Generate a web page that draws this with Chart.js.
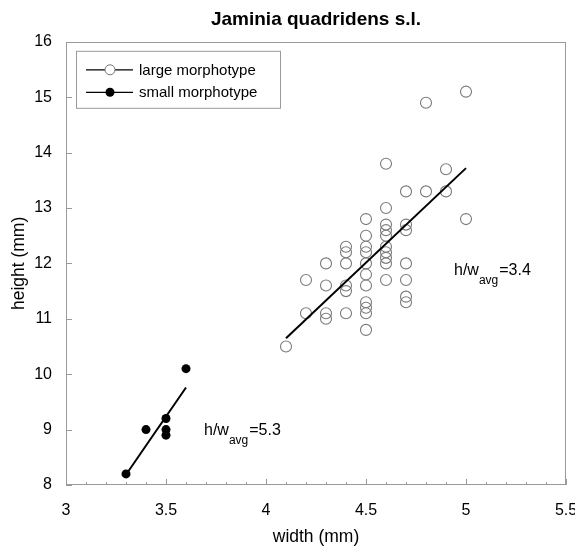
<!DOCTYPE html>
<html>
<head>
<meta charset="utf-8">
<script src="https://cdn.jsdelivr.net/npm/chart.js@4.4.1/dist/chart.umd.min.js"></script>
<style>
  html, body { margin: 0; padding: 0; background: #fff; }
  canvas { display: block; }
</style>
</head>
<body>
<canvas id="chart" width="575" height="552"></canvas>
<script>
// large morphotype
const largeWidth = [
  4.1,
  4.2, 4.2,
  4.3, 4.3, 4.3, 4.3,
  4.4, 4.4, 4.4, 4.4, 4.4, 4.4,
  4.5, 4.5, 4.5, 4.5, 4.5, 4.5, 4.5, 4.5, 4.5, 4.5, 4.5,
  4.6, 4.6, 4.6, 4.6, 4.6, 4.6, 4.6, 4.6, 4.6, 4.6,
  4.7, 4.7, 4.7, 4.7, 4.7, 4.7, 4.7,
  4.8, 4.8,
  4.9, 4.9,
  5.0, 5.0
];
const largeHeight = [
  10.5,
  11.7, 11.1,
  12.0, 11.6, 11.1, 11.0,
  12.3, 12.2, 12.0, 11.6, 11.5, 11.1,
  12.8, 12.5, 12.3, 12.2, 12.0, 11.8, 11.6, 11.3, 11.2, 11.1, 10.8,
  13.8, 13.0, 12.7, 12.6, 12.5, 12.3, 12.2, 12.1, 12.0, 11.7,
  13.3, 12.7, 12.6, 12.0, 11.7, 11.4, 11.3,
  14.9, 13.3,
  13.7, 13.3,
  15.1, 12.8
];

const smallWidth = [3.3, 3.4, 3.5, 3.5, 3.5, 3.6];
const smallHeight = [8.2, 9.0, 9.2, 9.0, 8.9, 10.1];

// fitted lines (end points)
const largeFitX = [4.1, 5.0];
const largeFitY = [10.65, 13.72];
const smallFitX = [3.31, 3.6];
const smallFitY = [8.24, 9.76];

const seriesLabels = ['large morphotype', 'small morphotype'];
const ratioLabels = ['3.4', '5.3'];
const ratioAt = [{ x: 4.94, y: 11.79 }, { x: 3.69, y: 8.9 }];

const xTicks = [3, 3.5, 4, 4.5, 5, 5.5];
const yTicks = [8, 9, 10, 11, 12, 13, 14, 15, 16];

const FONT = "'Liberation Sans', Arial, Helvetica, sans-serif";
const GREY = '#9a9a9a';

const pts = (xs, ys) => xs.map((x, i) => ({ x, y: ys[i] }));

const frameAndTicks = {
  id: 'frameAndTicks',
  beforeDatasetsDraw(chart) {
    const { ctx, chartArea: a, scales: { x, y } } = chart;
    ctx.save();
    ctx.strokeStyle = GREY;
    ctx.lineWidth = 1;
    ctx.strokeRect(Math.round(a.left) + 0.5, Math.round(a.top) + 0.5,
      Math.round(a.right - a.left) - 1, Math.round(a.bottom - a.top) - 1);
    ctx.beginPath();
    // x: major every 0.5, minor every 0.1, pointing inward
    for (let i = 0; i <= 25; i++) {
      const px = Math.round(x.getPixelForValue(3 + i * 0.1)) + 0.5;
      const len = i % 5 === 0 ? 6 : 3;
      ctx.moveTo(px, a.bottom);
      ctx.lineTo(px, a.bottom - len);
    }
    for (const v of yTicks) {
      const py = Math.round(y.getPixelForValue(v)) + 0.5;
      ctx.moveTo(a.left, py);
      ctx.lineTo(a.left + 6, py);
    }
    ctx.stroke();
    ctx.restore();
  }
};

const notes = {
  id: 'notes',
  afterDraw(chart) {
    const { ctx, scales: { x, y } } = chart;
    ctx.save();
    ctx.fillStyle = '#000';
    ctx.textBaseline = 'alphabetic';
    ratioAt.forEach((p, i) => {
      let px = x.getPixelForValue(p.x);
      const py = y.getPixelForValue(p.y);
      ctx.font = `16px ${FONT}`;
      ctx.fillText('h/w', px, py);
      px += ctx.measureText('h/w').width;
      ctx.font = `12px ${FONT}`;
      ctx.fillText('avg', px, py + 9);
      px += ctx.measureText('avg').width + 1;
      ctx.font = `16px ${FONT}`;
      ctx.fillText('=' + ratioLabels[i], px, py);
    });

    // legend box
    const a = chart.chartArea;
    const bx = a.left + 10, by = a.top + 9, bw = 204, bh = 57;
    ctx.fillStyle = '#fff';
    ctx.fillRect(bx, by, bw, bh);
    ctx.strokeStyle = GREY;
    ctx.lineWidth = 1;
    ctx.strokeRect(bx + 0.5, by + 0.5, bw, bh);
    seriesLabels.forEach((label, i) => {
      const ly = by + 19 + i * 22.5;
      ctx.strokeStyle = '#000';
      ctx.lineWidth = 1.3;
      ctx.beginPath();
      ctx.moveTo(bx + 10, ly);
      ctx.lineTo(bx + 57, ly);
      ctx.stroke();
      ctx.beginPath();
      ctx.arc(bx + 34, ly, i === 0 ? 5 : 4.5, 0, Math.PI * 2);
      if (i === 0) {
        ctx.fillStyle = '#fff';
        ctx.fill();
        ctx.strokeStyle = '#777';
        ctx.lineWidth = 1;
        ctx.stroke();
      } else {
        ctx.fillStyle = '#000';
        ctx.fill();
      }
      ctx.fillStyle = '#000';
      ctx.font = `15px ${FONT}`;
      ctx.textBaseline = 'middle';
      ctx.fillText(label, bx + 63, ly + 1);
    });
    ctx.restore();
  }
};

Chart.defaults.font.family = FONT;
Chart.defaults.color = '#000';

new Chart(document.getElementById('chart'), {
  type: 'scatter',
  data: {
    datasets: [
      { label: 'large fit', data: pts(largeFitX, largeFitY), showLine: true, pointRadius: 0,
        borderColor: '#000', borderWidth: 2, order: 0 },
      { label: 'small fit', data: pts(smallFitX, smallFitY), showLine: true, pointRadius: 0,
        borderColor: '#000', borderWidth: 2, order: 0 },
      { label: seriesLabels[0], data: pts(largeWidth, largeHeight), pointRadius: 5.5,
        pointBorderWidth: 1.1, borderColor: '#7a7a7a', backgroundColor: 'rgba(0,0,0,0)', order: 1 },
      { label: seriesLabels[1], data: pts(smallWidth, smallHeight), pointRadius: 4.5,
        pointBorderWidth: 0, borderColor: '#000', backgroundColor: '#000', order: 1 }
    ]
  },
  options: {
    responsive: false,
    animation: false,
    devicePixelRatio: 1,
    layout: { padding: { left: 0, right: 9, top: 0, bottom: 0 } },
    plugins: {
      legend: { display: false },
      tooltip: { enabled: false },
      title: {
        display: true,
        text: 'Jaminia quadridens s.l.',
        fullSize: false,
        font: { size: 19, weight: 'bold' },
        color: '#000',
        padding: { top: 8, bottom: 11 }
      }
    },
    scales: {
      x: {
        type: 'linear', min: 3, max: 5.5,
        afterBuildTicks: (s) => { s.ticks = xTicks.map(v => ({ value: v })); },
        afterFit: (s) => { s.height = 67; s.paddingLeft = 0; s.paddingRight = 0; },
        grid: { display: false, drawTicks: false },
        border: { display: false },
        ticks: { font: { size: 16 }, padding: 16, color: '#000', callback: (v) => String(v) },
        title: { display: true, text: 'width (mm)', font: { size: 17.5 }, padding: { top: 0, bottom: 4 } }
      },
      y: {
        type: 'linear', min: 8, max: 16,
        afterBuildTicks: (s) => { s.ticks = yTicks.map(v => ({ value: v })); },
        afterFit: (s) => { s.width = 66; s.paddingTop = 0; s.paddingBottom = 0; },
        grid: { display: false, drawTicks: false },
        border: { display: false },
        ticks: { font: { size: 16 }, padding: 14, color: '#000', callback: (v) => String(v) },
        title: { display: true, text: 'height (mm)', font: { size: 17.5 }, padding: { top: 9, bottom: 0 } }
      }
    }
  },
  plugins: [frameAndTicks, notes]
});
</script>
</body>
</html>
